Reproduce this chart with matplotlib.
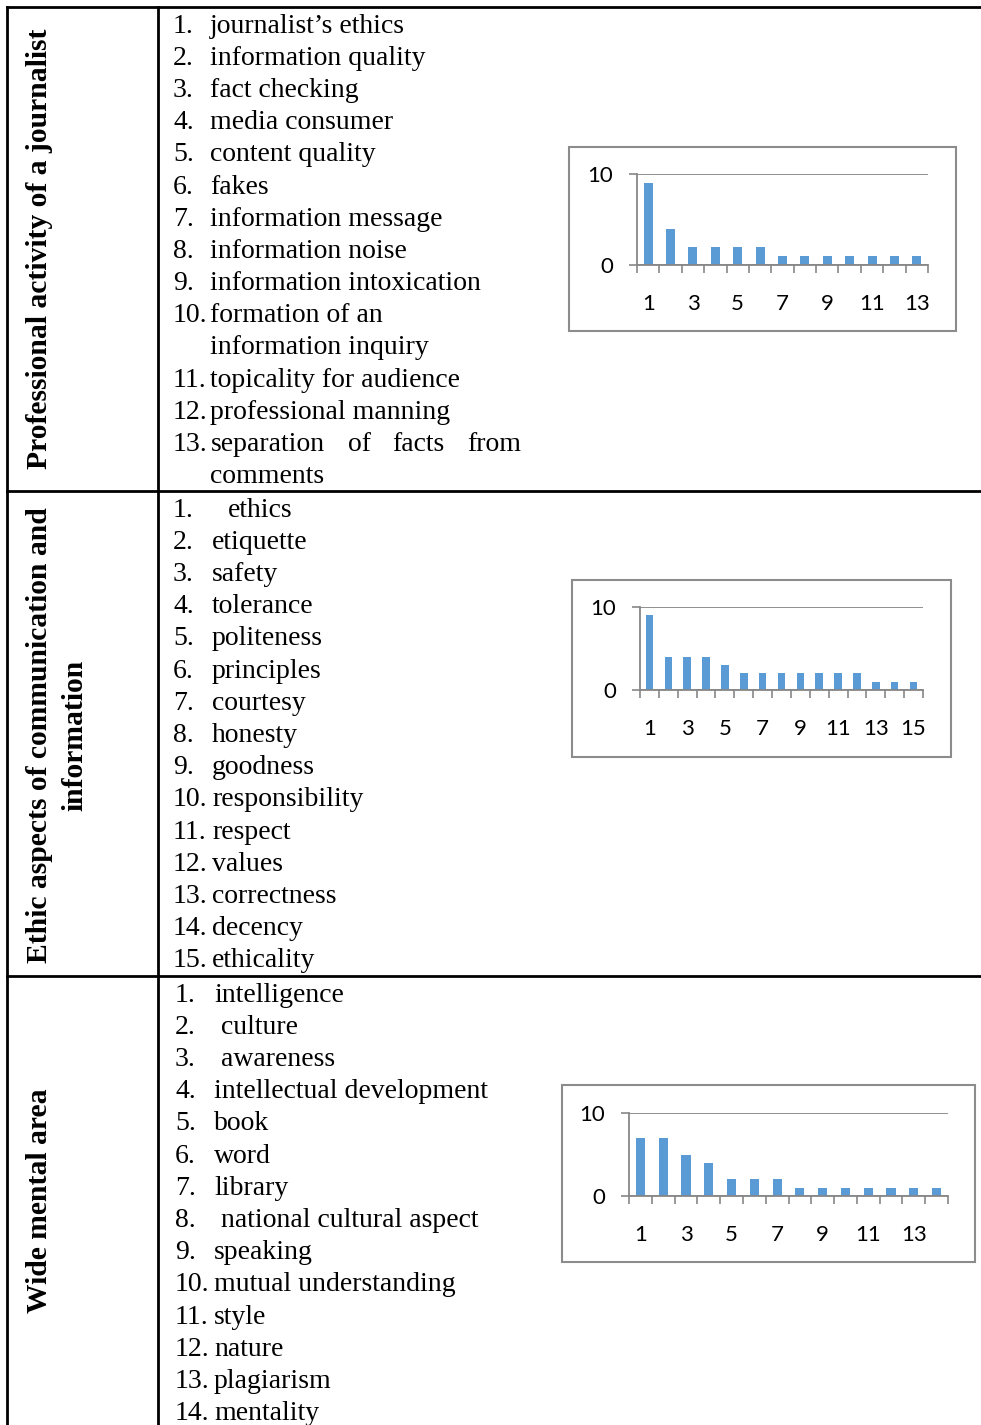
import matplotlib
matplotlib.use("Agg")
import matplotlib.pyplot as plt
from matplotlib.patches import Rectangle
import numpy as np

W, H = 981, 1425
BLUE = "#5B9BD5"
GRAY = "#878787"
SERIF = "Liberation Serif"
CHART_FONT = "Lato"

# ---- table content ----
row_titles = [
    ["Professional activity of a journalist"],
    ["Ethic aspects of communication and", "information"],
    ["Wide mental area"],
]

journalist_terms = [
    "journalist\u2019s ethics", "information quality", "fact checking",
    "media consumer", "content quality", "fakes", "information message",
    "information noise", "information intoxication",
    "formation of an\ninformation inquiry", "topicality for audience",
    "professional manning", "separation of facts from\ncomments",
]
ethic_terms = [
    "ethics", "etiquette", "safety", "tolerance", "politeness", "principles",
    "courtesy", "honesty", "goodness", "responsibility", "respect", "values",
    "correctness", "decency", "ethicality",
]
mental_terms = [
    "intelligence", "culture", "awareness", "intellectual development", "book",
    "word", "library", "national cultural aspect", "speaking",
    "mutual understanding", "style", "nature", "plagiarism", "mentality",
]

# ---- frequency of each term ----
journalist_counts = [9, 4, 2, 2, 2, 2, 1, 1, 1, 1, 1, 1, 1]
ethic_counts = [9, 4, 4, 4, 3, 2, 2, 2, 2, 2, 2, 2, 1, 1, 1]
mental_counts = [7, 7, 5, 4, 2, 2, 2, 1, 1, 1, 1, 1, 1, 1]

fig = plt.figure(figsize=(W / 100, H / 100), dpi=100)
base = fig.add_axes([0, 0, 1, 1])
base.set_xlim(0, W)
base.set_ylim(H, 0)
base.axis("off")

# table grid
lw = 2.0
base.plot([7, W], [7, 7], color="black", lw=lw)
base.plot([7, 7], [7, H], color="black", lw=lw)
base.plot([158, 158], [7, H], color="black", lw=lw)
for y in (491, 976):
    base.plot([7, W], [y, y], color="black", lw=lw)

# rotated row headers
header_pos = [([40], 249), ([40, 75], 735), ([40], 1201)]
for lines, (xs, yc) in zip(row_titles, header_pos):
    for line, x in zip(lines, xs):
        base.text(x, yc, line, rotation=90, ha="center", va="center",
                  fontsize=21.3, fontweight="bold", family=SERIF)


def term_list(terms, y0, num_x, text_x, extra_indent=None, step=32.2):
    extra_indent = extra_indent or {}
    y = y0
    for i, term in enumerate(terms, start=1):
        base.text(num_x, y, f"{i}.", ha="left", va="center", fontsize=20, family=SERIF)
        for j, part in enumerate(term.split("\n")):
            tx = text_x + extra_indent.get(i, 0)
            if part == "separation of facts from":
                # justified line
                for word, wx in zip(part.split(), [211, 348, 392, 467]):
                    base.text(wx, y, word, ha="left", va="center", fontsize=20, family=SERIF)
            else:
                base.text(tx, y, part, ha="left", va="center", fontsize=20, family=SERIF)
            y += step


term_list(journalist_terms, 26, 173, 210)
term_list(ethic_terms, 510, 173, 212, {1: 16})
term_list(mental_terms, 995, 175, 214, {2: 7, 3: 7, 8: 7})


def frequency_chart(counts, box, plot):
    bx0, by0, bx1, by1 = box
    base.add_patch(Rectangle((bx0, by0), bx1 - bx0, by1 - by0, fill=False,
                             edgecolor="#8C8C8C", lw=1.5))
    px0, py0, px1, py1 = plot
    ax = fig.add_axes([px0 / W, 1 - py1 / H, (px1 - px0) / W, (py1 - py0) / H])
    ax.set_facecolor("none")
    n = len(counts)
    x = np.arange(1, n + 1)
    ax.bar(x, counts, width=0.4, color=BLUE, zorder=3)
    ax.set_xlim(0.5, n + 0.5)
    ax.set_ylim(0, 10)
    ax.set_yticks([0, 10])
    ax.yaxis.grid(True, color=GRAY, lw=1.3, zorder=1)
    ax.set_xticks(x)
    ax.set_xticklabels([str(i) if i % 2 else "" for i in x])
    ax.set_xticks(np.arange(0.5, n + 1), minor=True)
    ax.tick_params(axis="x", which="major", length=0, pad=21, labelsize=16)
    ax.tick_params(axis="x", which="minor", length=6, width=1.2, color=GRAY, direction="out")
    ax.tick_params(axis="y", length=6, width=1.2, color=GRAY, pad=11, labelsize=16)
    for lab in ax.get_xticklabels() + ax.get_yticklabels():
        lab.set_family(CHART_FONT)
    for s in ("top", "right"):
        ax.spines[s].set_visible(False)
    for s in ("left", "bottom"):
        ax.spines[s].set_color(GRAY)
        ax.spines[s].set_linewidth(1.3)
    ax.spines["bottom"].set_zorder(4)


frequency_chart(journalist_counts, (569, 147, 956, 331), (637, 174, 928, 265))
frequency_chart(ethic_counts, (572, 580, 951, 757), (640, 607, 923, 690))
frequency_chart(mental_counts, (562, 1085, 975, 1262), (629, 1113, 948, 1196))

fig.savefig("out.png", dpi=100)
